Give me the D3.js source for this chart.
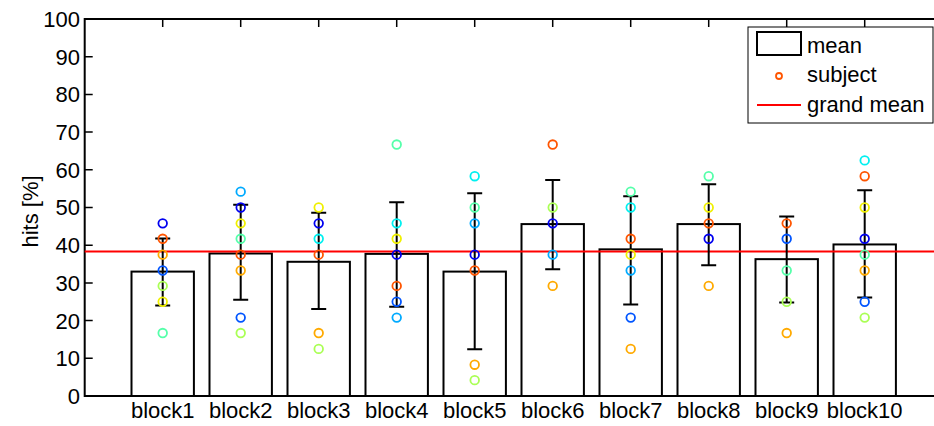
<!DOCTYPE html>
<html>
<head>
<meta charset="utf-8">
<script src="https://cdn.jsdelivr.net/npm/d3@7"></script>
<style>
  body { margin: 0; background: #fff; }
  svg text { font-family: "Liberation Sans", Arial, sans-serif; fill: #000; }
</style>
</head>
<body>
<svg id="chart" width="934" height="426"></svg>
<script>
// categories and values
const blocks = ["block1", "block2", "block3", "block4", "block5", "block6", "block7", "block8", "block9", "block10"];
const means = [33.0, 37.8, 35.6, 37.7, 33.0, 45.6, 38.9, 45.6, 36.3, 40.2];
const errHigh = [41.8, 50.7, 48.6, 51.4, 53.8, 57.3, 53.0, 56.2, 47.6, 54.6];
const errLow = [24.0, 25.5, 23.1, 23.7, 12.4, 33.6, 24.3, 34.7, 24.8, 26.1];
const grandMean = 38.3;
const yTicks = [0, 10, 20, 30, 40, 50, 60, 70, 80, 90, 100];

// one array per subject (null = hidden / not visible)
const subjDarkBlue = [45.8, 50, 45.8, 37.5, 37.5, 45.8, null, 41.7, null, 41.7];
const subjBlue = [33.3, 20.8, null, 25, null, null, 20.8, null, 41.7, 25];
const subjSkyBlue = [null, 54.2, null, 20.8, 45.8, 37.5, 33.3, null, null, null];
const subjCyan = [null, null, 41.7, 45.8, 58.3, null, 50, null, null, 62.5];
const subjAqua = [16.7, 41.7, null, 66.7, 50, null, 54.2, 58.3, 33.3, 37.5];
const subjLightGreen = [29.2, 16.7, 12.5, null, 4.2, 50, null, null, 25, 20.8];
const subjYellow = [25, 45.8, 50, 41.7, null, null, 37.5, 50, null, 50];
const subjOrange = [37.5, 33.3, 16.7, null, 8.3, 29.2, 12.5, 29.2, 16.7, 33.3];
const subjOrangeRed = [41.7, 37.5, 37.5, 29.2, 33.3, 66.7, 41.7, 45.8, 45.8, 58.3];

const subjects = [
  { color: "#0000f0", vals: subjDarkBlue },
  { color: "#0055ff", vals: subjBlue },
  { color: "#00aaff", vals: subjSkyBlue },
  { color: "#00f0f0", vals: subjCyan },
  { color: "#55ffaa", vals: subjAqua },
  { color: "#aaff55", vals: subjLightGreen },
  { color: "#f0f000", vals: subjYellow },
  { color: "#ffaa00", vals: subjOrange },
  { color: "#ff5500", vals: subjOrangeRed }
];

const svg = d3.select("#chart");

const x = d3.scaleLinear().domain([0, 11]).range([84.7, 942.7]);
const y = d3.scaleLinear().domain([0, 100]).range([396, 19]);
const barW = (x(1) - x(0)) * 0.8;
const tickLen = 8;

// axes frame
const axes = svg.append("g");
axes.append("rect")
  .attr("x", x(0)).attr("y", y(100))
  .attr("width", x(11) - x(0)).attr("height", y(0) - y(100))
  .attr("fill", "none").attr("stroke", "#000").attr("stroke-width", 2);

// y ticks (left + right, inward)
axes.selectAll(".ytick").data(yTicks).enter().append("path")
  .attr("d", d => `M${x(0)},${y(d)}h${tickLen}M${x(11)},${y(d)}h${-tickLen}`)
  .attr("stroke", "#000").attr("stroke-width", 1.5);

// x ticks (top + bottom, inward)
axes.selectAll(".xtick").data(blocks).enter().append("path")
  .attr("d", (d, i) => `M${x(i + 1)},${y(100)}v${tickLen}M${x(i + 1)},${y(0)}v${-tickLen}`)
  .attr("stroke", "#000").attr("stroke-width", 1.5);

axes.selectAll(".ylab").data(yTicks).enter().append("text")
  .attr("x", 80).attr("y", d => y(d))
  .attr("dy", "0.36em")
  .attr("text-anchor", "end")
  .attr("font-size", 22)
  .text(d => d);

axes.selectAll(".xlab").data(blocks).enter().append("text")
  .attr("x", (d, i) => x(i + 1)).attr("y", 418)
  .attr("text-anchor", "middle")
  .attr("font-size", 22)
  .text(d => d);

svg.append("text")
  .attr("transform", `translate(38,${y(50) + 4}) rotate(-90)`)
  .attr("text-anchor", "middle")
  .attr("font-size", 22)
  .text("hits [%]");

// bars
svg.selectAll(".bar").data(means).enter().append("rect")
  .attr("x", (d, i) => x(i + 1) - barW / 2)
  .attr("y", d => y(d))
  .attr("width", barW)
  .attr("height", d => y(0) - y(d))
  .attr("fill", "#fff").attr("stroke", "#000").attr("stroke-width", 2);

// grand mean
svg.append("line")
  .attr("x1", x(0)).attr("x2", x(11))
  .attr("y1", y(grandMean)).attr("y2", y(grandMean))
  .attr("stroke", "#ff0000").attr("stroke-width", 2);

// error bars
const cap = 7.5;
const eb = svg.selectAll(".err").data(blocks).enter().append("path")
  .attr("d", (d, i) => {
    const cx = x(i + 1), t = y(errHigh[i]), b = y(errLow[i]);
    return `M${cx},${t}V${b}M${cx - cap},${t}H${cx + cap}M${cx - cap},${b}H${cx + cap}`;
  })
  .attr("fill", "none").attr("stroke", "#000").attr("stroke-width", 2);

// subject points
subjects.forEach(s => {
  const pts = s.vals.map((v, i) => ({ i, v })).filter(p => p.v !== null);
  svg.selectAll(null).data(pts).enter().append("circle")
    .attr("cx", p => x(p.i + 1))
    .attr("cy", p => y(p.v))
    .attr("r", 4.3)
    .attr("fill", "none")
    .attr("stroke", s.color)
    .attr("stroke-width", 1.8);
});

// legend
const lg = svg.append("g");
lg.append("rect")
  .attr("x", 748).attr("y", 27).attr("width", 185).attr("height", 96)
  .attr("fill", "#fff").attr("stroke", "#000").attr("stroke-width", 1);
lg.append("rect")
  .attr("x", 757).attr("y", 32).attr("width", 44).attr("height", 23)
  .attr("fill", "#fff").attr("stroke", "#000").attr("stroke-width", 2);
lg.append("circle")
  .attr("cx", 779).attr("cy", 76).attr("r", 3)
  .attr("fill", "none").attr("stroke", "#ff5500").attr("stroke-width", 1.8);
lg.append("line")
  .attr("x1", 757).attr("x2", 801).attr("y1", 105).attr("y2", 105)
  .attr("stroke", "#ff0000").attr("stroke-width", 2);
const legText = ["mean", "subject", "grand mean"];
const legY = [53, 82, 112];
lg.selectAll(".lt").data(legText).enter().append("text")
  .attr("x", 807).attr("y", (d, i) => legY[i])
  .attr("font-size", 22)
  .text(d => d);
</script>
</body>
</html>
